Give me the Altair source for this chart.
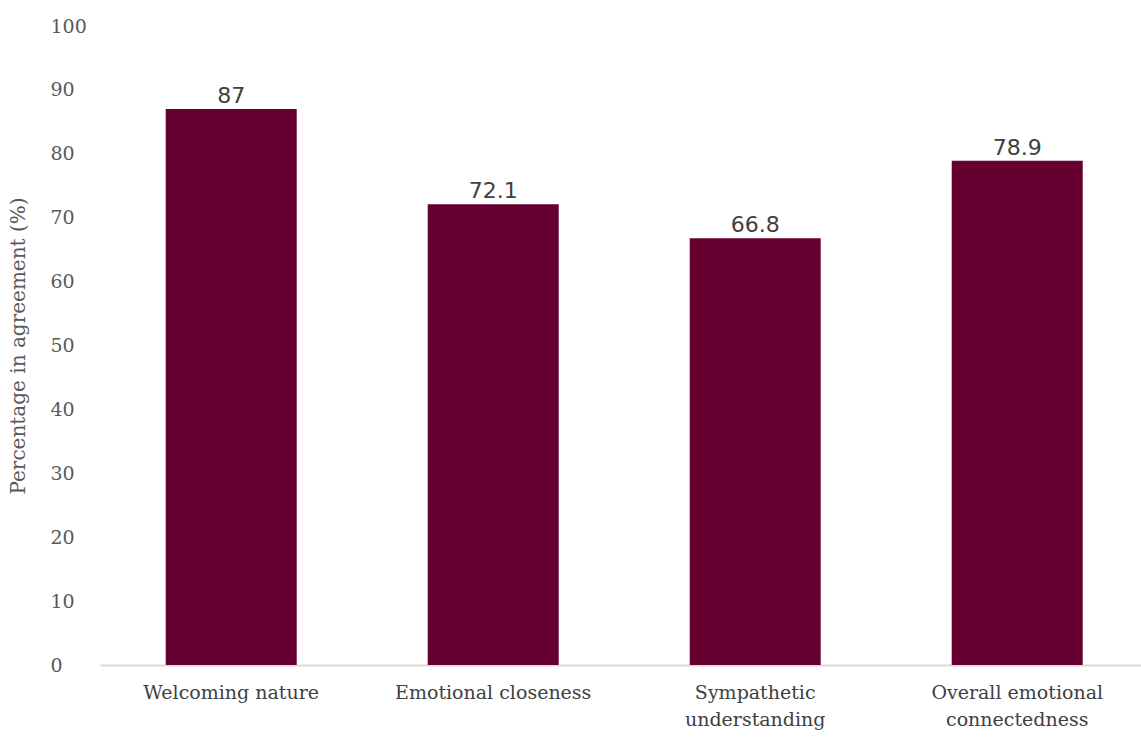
import altair as alt
import pandas as pd

categories = ["Welcoming nature", "Emotional closeness", "Sympathetic understanding", "Overall emotional connectedness"]
values = [87, 72.1, 66.8, 78.9]
label_lines = {
    "Sympathetic understanding": ["Sympathetic", "understanding"],
    "Overall emotional connectedness": ["Overall emotional", "connectedness"],
}
y_ticks = list(range(0, 101, 10))

df = pd.DataFrame({"category": categories, "value": values})

expr_parts = []
for k, v in label_lines.items():
    arr = "[" + ",".join("'" + s + "'" for s in v) + "]"
    expr_parts.append(f"datum.label == '{k}' ? {arr} : ")
label_expr = "".join(expr_parts) + "datum.label"

serif = "DejaVu Serif"

x = alt.X(
    "category:N",
    sort=categories,
    title=None,
    scale=alt.Scale(paddingInner=0.5, paddingOuter=0.2366, align=0.53),
    axis=alt.Axis(
        labelAngle=0,
        labelFont=serif,
        labelFontSize=19,
        labelColor="#404040",
        labelPadding=18,
        labelLineHeight=27,
        labelBaseline="top",
        labelLimit=400,
        labelExpr=label_expr,
        ticks=False,
        domainColor="#d9d9d9",
        domainWidth=2,
        grid=False,
    ),
)

y = alt.Y(
    "value:Q",
    title="Percentage in agreement (%)",
    scale=alt.Scale(domain=[0, 100], nice=False),
    axis=alt.Axis(
        values=y_ticks,
        labelFont=serif,
        labelFontSize=19,
        labelColor="#595959",
        labelAlign="left",
        labelPadding=50,
        ticks=False,
        domain=False,
        grid=False,
        titleFont=serif,
        titleFontSize=20,
        titleFontWeight="normal",
        titleColor="#595959",
        titlePadding=22,
    ),
)

base = alt.Chart(df).encode(x=x, y=y)

bars = base.mark_bar(color="#650030")
texts = base.mark_text(
    baseline="alphabetic", dy=-6, font="DejaVu Sans", fontSize=22, color="#404040"
).encode(text="value:Q")

chart = (
    (bars + texts)
    .properties(
        width=1041,
        height=639,
        background="white",
        autosize=alt.AutoSizeParams(type="none"),
        padding={"left": 100, "top": 26, "right": 0, "bottom": 72},
    )
    .configure_view(strokeWidth=0, stroke=None)
)

chart.save("out.html", embed_options={"renderer": "svg", "actions": False})
